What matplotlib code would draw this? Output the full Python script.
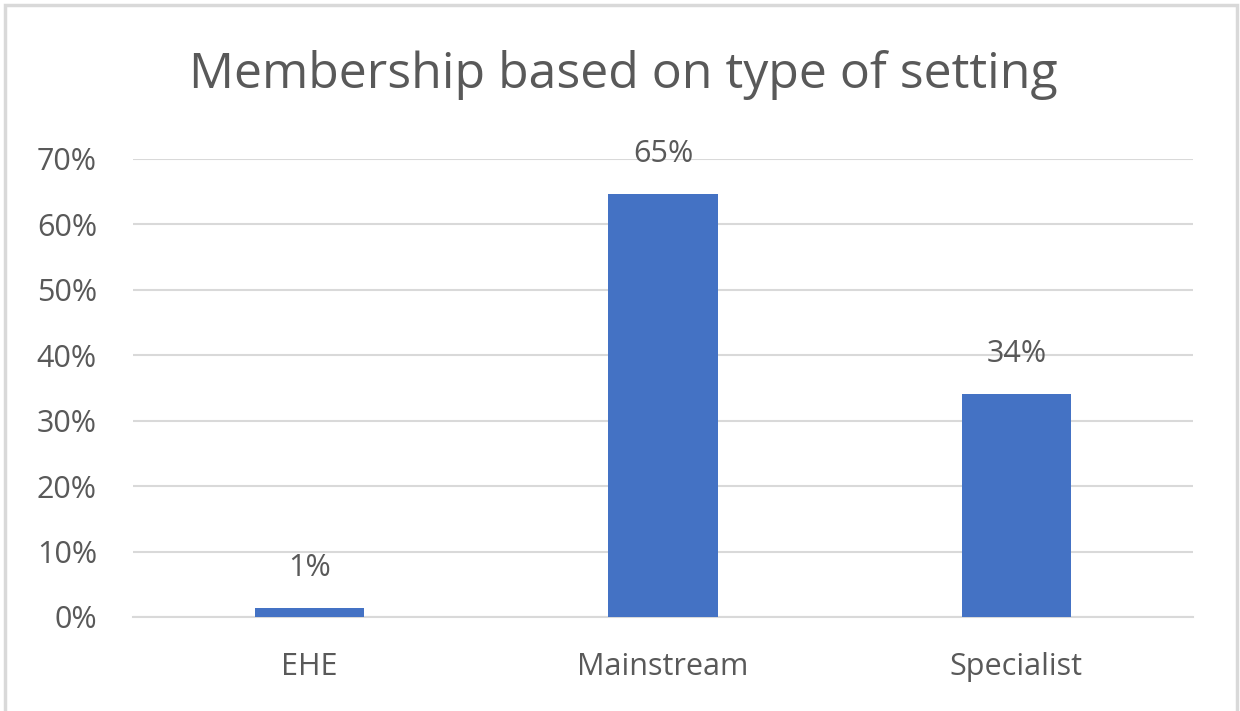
import matplotlib
matplotlib.use("Agg")
import matplotlib.pyplot as plt
from matplotlib.patches import Rectangle
from matplotlib.ticker import PercentFormatter

# Share of members by type of setting
categories = ["EHE", "Mainstream", "Specialist"]
shares = [0.014, 0.646, 0.341]
y_ticks = [0.0, 0.1, 0.2, 0.3, 0.4, 0.5, 0.6, 0.7]

text_grey = "#595959"
bar_blue = "#4472C4"
grid_grey = "#D9D9D9"

plt.rcParams["font.family"] = ["Open Sans", "DejaVu Sans"]

fig = plt.figure(figsize=(12.4, 7.11), dpi=100)
ax = fig.add_axes([133 / 1240, 1 - 617 / 711, 1060 / 1240, 458 / 711])

# light frame round the chart area
fig.patches.append(Rectangle((5 / 1240, -0.1), 1232 / 1240, 1.1 - 5 / 711,
                             transform=fig.transFigure, fill=False,
                             edgecolor=grid_grey, linewidth=2.5))

bars = ax.bar(range(len(categories)), shares, width=0.31, color=bar_blue, zorder=3)

for rect, val in zip(bars, shares):
    ax.annotate(f"{val:.0%}", (rect.get_x() + rect.get_width() / 2, val),
                xytext=(0, 18), textcoords="offset points",
                ha="center", va="bottom", fontsize=22, color=text_grey)

ax.set_xlim(-0.5, 2.5)
ax.set_ylim(0, 0.7)
ax.set_yticks(y_ticks)
ax.yaxis.set_major_formatter(PercentFormatter(1.0, decimals=0))
ax.set_xticks(range(len(categories)))
ax.set_xticklabels(categories)
ax.tick_params(axis="y", length=0, pad=26, labelsize=22, labelcolor=text_grey)
ax.tick_params(axis="x", length=0, pad=25, labelsize=22, labelcolor=text_grey)

ax.grid(axis="y", color=grid_grey, linewidth=1.5, zorder=0)
for side in ["top", "right", "left"]:
    ax.spines[side].set_visible(False)
ax.spines["bottom"].set_color(grid_grey)
ax.spines["bottom"].set_linewidth(1.5)

fig.text(623 / 1240, 1 - 88 / 711, "Membership based on type of setting",
         ha="center", va="baseline", fontsize=36, color=text_grey)

fig.savefig("out.png", dpi=100, facecolor="white")
